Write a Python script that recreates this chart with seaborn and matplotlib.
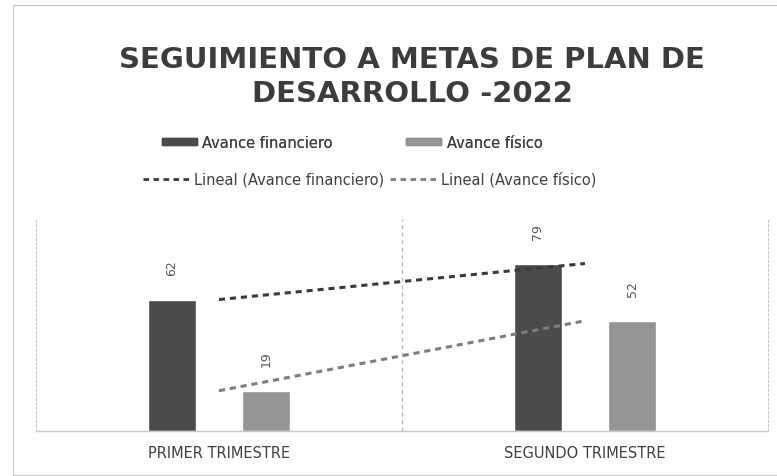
import numpy as np
import pandas as pd
import matplotlib
matplotlib.use("Agg")
import matplotlib.pyplot as plt
from matplotlib.patches import Patch, Rectangle
from matplotlib.lines import Line2D
import seaborn as sns

# Datos del gráfico
trimestres = ["PRIMER TRIMESTRE", "SEGUNDO TRIMESTRE"]
avance_financiero = [62, 79]
avance_fisico = [19, 52]
series = ["Avance financiero", "Avance físico"]

df = pd.DataFrame({
    "trimestre": trimestres * 2,
    "valor": avance_financiero + avance_fisico,
    "serie": [series[0]] * 2 + [series[1]] * 2,
})

COLOR_FIN = "#4b4b4b"
COLOR_FIS = "#959595"

sns.set_theme(style="white")
plt.rcParams["font.family"] = ["DejaVu Sans"]

fig = plt.figure(figsize=(7.77, 4.77), dpi=100)
ax = fig.add_axes([36 / 777, 45 / 477, 732 / 777, 212 / 477])

sns.barplot(data=df, x="trimestre", y="valor", hue="serie",
            palette=[COLOR_FIN, COLOR_FIS], width=0.514, gap=0.48,
            legend=False, ax=ax, saturation=1)

# Líneas de tendencia (ajuste lineal sobre los dos trimestres)
xpos = np.arange(len(trimestres))
for vals, col in [(avance_financiero, "#3a3a3a"), (avance_fisico, "#7d7d7d")]:
    coef = np.polyfit(xpos, vals, 1)
    sns.lineplot(x=xpos, y=np.polyval(coef, xpos), ax=ax, color=col,
                 lw=2.2, linestyle=(0, (2, 1.6)))

for cont in ax.containers:
    ax.bar_label(cont, rotation=90, padding=18, color="#555555", fontsize=9)

ax.set_xlim(-0.5, 1.5)
ax.set_ylim(0, 100)
ax.axvline(0.5, color="#b5b5b5", lw=0.9, linestyle=(0, (3, 3)))
ax.set_yticks([])
ax.set_xlabel("")
ax.set_ylabel("")
ax.tick_params(axis="x", length=0, pad=10, labelsize=10.5, labelcolor="#3f3f3f")
for spine in ["left", "right"]:
    ax.spines[spine].set_color("#c8c8c8")
    ax.spines[spine].set_linestyle((0, (2, 2)))
    ax.spines[spine].set_linewidth(0.8)
ax.spines["top"].set_visible(False)
ax.spines["bottom"].set_color("#c8c8c8")
ax.spines["bottom"].set_linewidth(1.0)

# Título
fig.text(412 / 777, 1 - 77 / 477, "SEGUIMIENTO A METAS DE PLAN DE\nDESARROLLO -2022",
         ha="center", va="center", fontsize=21, fontweight="bold",
         color="#3c3c3c", linespacing=1.3)

# Leyenda en dos filas
h_barras = [Patch(color=COLOR_FIN), Patch(color=COLOR_FIS)]
h_lineas = [Line2D([], [], color="#3a3a3a", lw=2, linestyle=(0, (2, 1.6))),
            Line2D([], [], color="#7d7d7d", lw=2, linestyle=(0, (2, 1.6)))]
leg1 = fig.legend(h_barras, series, loc="center", ncol=2,
                  bbox_to_anchor=(352 / 777, 1 - 143 / 477), frameon=False,
                  fontsize=10.5, handlelength=2.4, handleheight=0.4,
                  columnspacing=5, handletextpad=0.4, labelcolor="#3f3f3f")
fig.legend(h_lineas, ["Lineal (Avance financiero)", "Lineal (Avance físico)"],
           loc="center", ncol=2, bbox_to_anchor=(370 / 777, 1 - 180 / 477),
           frameon=False, fontsize=10.5, handlelength=3.2,
           columnspacing=0.4, handletextpad=0.3, labelcolor="#3f3f3f")
fig.add_artist(leg1)

# Borde exterior del gráfico
fig.add_artist(Rectangle((13 / 777, 1 / 477), 770 / 777, 470 / 477,
                         transform=fig.transFigure, fill=False,
                         ec="#c4c4c4", lw=0.8))

fig.savefig("out.png", dpi=100)
